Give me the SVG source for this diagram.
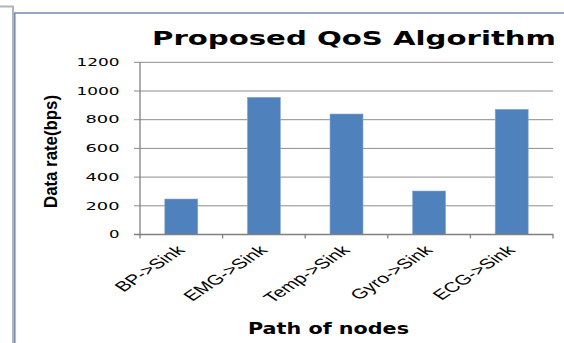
<svg xmlns="http://www.w3.org/2000/svg" width="564" height="343" viewBox="0 0 564 343">
  <style>
    .frame-outer { fill: none; stroke: #b4b4b4; stroke-width: 2; }
    .frame-chart { fill: none; stroke: #6f8bb1; stroke-width: 1.5; }
    .grid { stroke: #8c8c8c; stroke-width: 1; fill: none; }
    .axis { stroke: #808080; stroke-width: 1.3; fill: none; }
    .bar { fill: #4f81bd; stroke: #8eaad3; stroke-width: 0.6; }
    .title { font-family: "DejaVu Sans", "Liberation Sans", sans-serif; font-weight: bold; font-size: 19px; fill: #000; }
    .tick { font-family: "DejaVu Sans", "Liberation Sans", sans-serif; font-size: 10px; fill: #000; }
    .ytitle { font-family: "Liberation Sans", Arial, sans-serif; font-weight: bold; font-size: 16px; fill: #000; }
    .cat { font-family: "Liberation Sans", Arial, sans-serif; font-size: 14px; fill: #000; }
    .xtitle { font-family: "DejaVu Sans", "Liberation Sans", sans-serif; font-weight: bold; font-size: 15px; fill: #000; }
  </style>

  <rect width="564" height="343" fill="#ffffff"/>

  <!-- page and chart borders -->
  <g id="frame">
    <polyline class="frame-outer" points="0,6.5 13,6.5 13,343"/>
    <polyline class="frame-chart" points="14.8,345 14.8,13 565,13"/>
  </g>

  <text class="title" x="152" y="45" textLength="404" lengthAdjust="spacingAndGlyphs">Proposed QoS Algorithm</text>

  <!-- horizontal gridlines, 200 bps apart -->
  <g id="gridlines">
    <line class="grid" x1="134" y1="62.3" x2="553" y2="62.3"/>
    <line class="grid" x1="134" y1="91" x2="553" y2="91"/>
    <line class="grid" x1="134" y1="119.7" x2="553" y2="119.7"/>
    <line class="grid" x1="134" y1="148.4" x2="553" y2="148.4"/>
    <line class="grid" x1="134" y1="177.1" x2="553" y2="177.1"/>
    <line class="grid" x1="134" y1="205.8" x2="553" y2="205.8"/>
  </g>

  <!-- value axis labels -->
  <g id="y-ticks" class="tick">
    <text x="76.5" y="66" textLength="43" lengthAdjust="spacingAndGlyphs">1200</text>
    <text x="76.5" y="94.7" textLength="43" lengthAdjust="spacingAndGlyphs">1000</text>
    <text x="85.5" y="123.4" textLength="34" lengthAdjust="spacingAndGlyphs">800</text>
    <text x="85.5" y="152.1" textLength="34" lengthAdjust="spacingAndGlyphs">600</text>
    <text x="85.5" y="180.8" textLength="34" lengthAdjust="spacingAndGlyphs">400</text>
    <text x="85.5" y="209.5" textLength="34" lengthAdjust="spacingAndGlyphs">200</text>
    <text x="109" y="238.2" textLength="10.5" lengthAdjust="spacingAndGlyphs">0</text>
  </g>

  <text class="ytitle" transform="translate(57,151.5) scale(1.2,1) rotate(-90)" text-anchor="middle" textLength="113" lengthAdjust="spacingAndGlyphs">Data rate(bps)</text>

  <!-- data bars -->
  <g id="bars">
    <g id="bar-bp"><rect class="bar" x="164.8" y="199" width="33" height="35.5"/></g>
    <g id="bar-emg"><rect class="bar" x="247.4" y="97.3" width="33" height="137.2"/></g>
    <g id="bar-temp"><rect class="bar" x="330" y="114" width="33" height="120.5"/></g>
    <g id="bar-gyro"><rect class="bar" x="412.6" y="191" width="33" height="43.5"/></g>
    <g id="bar-ecg"><rect class="bar" x="495.2" y="109.3" width="33" height="125.2"/></g>
  </g>

  <!-- axes with tick marks -->
  <g id="axes">
    <line class="axis" x1="140" y1="62.3" x2="140" y2="238.5"/>
    <line class="axis" x1="134" y1="234.5" x2="553.5" y2="234.5"/>
    <line class="axis" x1="222.6" y1="234.5" x2="222.6" y2="238.5"/>
    <line class="axis" x1="305.2" y1="234.5" x2="305.2" y2="238.5"/>
    <line class="axis" x1="387.8" y1="234.5" x2="387.8" y2="238.5"/>
    <line class="axis" x1="470.4" y1="234.5" x2="470.4" y2="238.5"/>
    <line class="axis" x1="553" y1="234.5" x2="553" y2="238.5"/>
  </g>

  <!-- category labels -->
  <g id="x-labels" class="cat" text-anchor="end">
    <text transform="translate(185.8,251) scale(1.5,1) rotate(-45)">BP-&gt;Sink</text>
    <text transform="translate(268.4,251) scale(1.5,1) rotate(-45)">EMG-&gt;Sink</text>
    <text transform="translate(351,251) scale(1.5,1) rotate(-45)">Temp-&gt;Sink</text>
    <text transform="translate(433.6,251) scale(1.5,1) rotate(-45)">Gyro-&gt;Sink</text>
    <text transform="translate(516.2,251) scale(1.5,1) rotate(-45)">ECG-&gt;Sink</text>
  </g>

  <text class="xtitle" x="248" y="334" textLength="161" lengthAdjust="spacingAndGlyphs">Path of nodes</text>
</svg>
